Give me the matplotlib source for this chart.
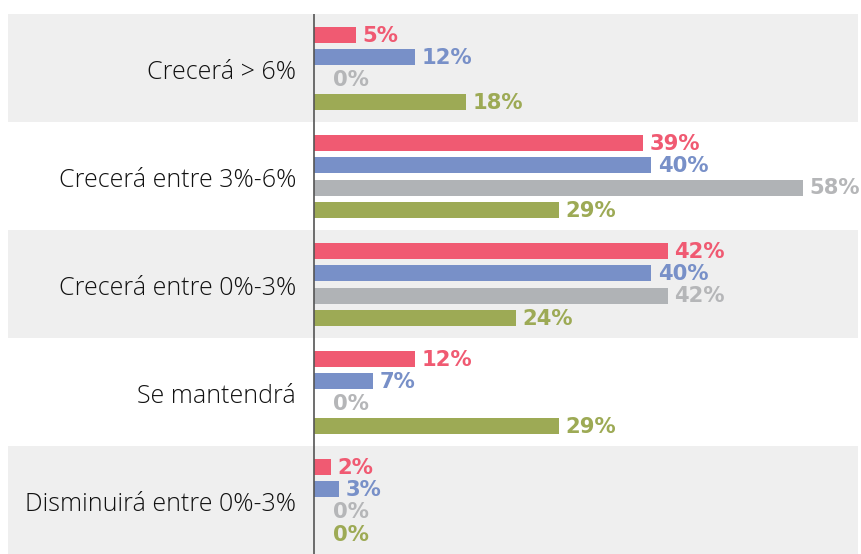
import matplotlib
matplotlib.use('Agg')
import matplotlib.pyplot as plt
import numpy as np

categories = ['Crecerá > 6%', 'Crecerá entre 3%-6%', 'Crecerá entre 0%-3%',
              'Se mantendrá', 'Disminuirá entre 0%-3%']
serie_rojo = [5, 39, 42, 12, 2]
serie_azul = [12, 40, 40, 7, 3]
serie_gris = [0, 58, 42, 0, 0]
serie_verde = [18, 29, 24, 29, 0]

series = [serie_rojo, serie_azul, serie_gris, serie_verde]
colors = ['#F05A72', '#7890C8', '#B0B3B6', '#9DAA55']
label_colors = ['#F05A72', '#7890C8', '#B5B6B8', '#9DAA55']

fig = plt.figure(figsize=(8.62, 5.54), dpi=100)
ax = fig.add_axes([8 / 862, 0, 850 / 862, 540 / 554])

ind = np.arange(len(categories))
step = 0.206
height = 0.148

# bandas grises alternas
for i in ind:
    if i % 2 == 0:
        ax.axhspan(i - 0.5, i + 0.5, color='#EFEFEF', lw=0, zorder=0)

for k, (vals, c, lc) in enumerate(zip(series, colors, label_colors)):
    ypos = ind + (k - 1.5) * step + 0.005
    ax.barh(ypos, vals, height, color=c, zorder=2)
    for y, v in zip(ypos, vals):
        off = 4.5 if v > 0 else 13.5
        ax.annotate('%d%%' % v, (v, y), xytext=(off, -0.5), textcoords='offset points',
                    ha='left', va='center', color=lc, fontsize=15.2,
                    fontweight='bold', family='DejaVu Sans', zorder=3)

for i, cat in zip(ind, categories):
    ax.annotate(cat, (0, i), xytext=(-13, -3.5), textcoords='offset points',
                ha='right', va='center', fontsize=18, color='#111111',
                family='Open Sans', fontweight='light')

ax.axvline(0, color='#555555', lw=1.2, zorder=4)

ax.set_xlim(-36.3, 64.5)
ax.set_ylim(len(categories) - 0.5, -0.5)
ax.axis('off')

fig.savefig('out.png', dpi=100)
